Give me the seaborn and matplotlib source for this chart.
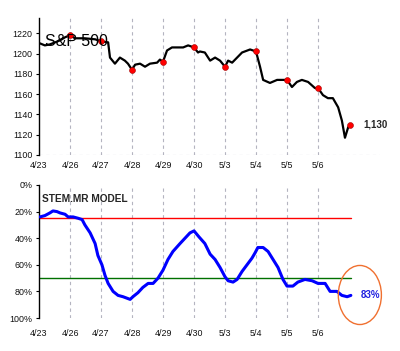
import matplotlib
matplotlib.use("Agg")
import matplotlib.pyplot as plt
import seaborn as sns
import pandas as pd
from matplotlib.patches import Ellipse

# ---- data ----
days = ["4/23", "4/26", "4/27", "4/28", "4/29", "4/30", "5/3", "5/4", "5/5", "5/6"]

spx_t = [0.03, 0.19, 0.35, 0.52, 0.68, 0.84, 1.0, 1.16, 1.48, 1.81, 2.0, 2.23, 2.29, 2.45,
         2.61, 2.77, 2.87, 3.0, 3.10, 3.26, 3.42, 3.58, 3.81, 3.90, 4.0, 4.13, 4.29, 4.65,
         4.81, 5.0, 5.13, 5.19, 5.35, 5.52, 5.68, 5.84, 6.0, 6.10, 6.23, 6.39, 6.55, 6.81,
         7.0, 7.13, 7.23, 7.45, 7.68, 7.87, 8.0, 8.16, 8.32, 8.48, 8.68, 8.90, 9.0, 9.16,
         9.32, 9.48, 9.65, 9.77, 9.87, 9.97, 10.03]
spx_v = [1210, 1208, 1209, 1211, 1213, 1216, 1218, 1215, 1215, 1214, 1212, 1211, 1196, 1190,
         1196, 1193, 1190, 1184, 1189, 1190, 1187, 1190, 1191, 1194, 1192, 1203, 1206, 1206,
         1208, 1206, 1201, 1202, 1201, 1193, 1196, 1193, 1187, 1193, 1191, 1196, 1201, 1204,
         1202, 1187, 1174, 1171, 1174, 1174, 1174, 1167, 1172, 1174, 1172, 1166, 1166, 1159,
         1156, 1156, 1147, 1134, 1117, 1127, 1130]

close_t = [1, 2, 3, 4, 5, 6, 7, 8, 9, 10.03]
close_v = [1218, 1212, 1184, 1192, 1206, 1187, 1202, 1174, 1166, 1130]

mdl_t = [0.03, 0.19, 0.35, 0.45, 0.58, 0.68, 0.84, 0.94, 1.10, 1.26, 1.39, 1.48, 1.65, 1.81,
         1.90, 2.03, 2.13, 2.23, 2.39, 2.55, 2.71, 2.94, 3.03, 3.19, 3.35, 3.52, 3.68, 3.84,
         4.0, 4.16, 4.32, 4.55, 4.71, 4.87, 5.0, 5.16, 5.35, 5.52, 5.68, 5.84, 6.0, 6.10,
         6.26, 6.39, 6.55, 6.71, 6.87, 6.97, 7.06, 7.23, 7.39, 7.55, 7.71, 7.87, 8.0, 8.19,
         8.35, 8.58, 8.81, 9.0, 9.23, 9.39, 9.61, 9.77, 9.94, 10.06]
mdl_v = [24, 23, 21, 19.5, 20, 21, 22, 24, 24, 25, 26, 30, 36, 44,
         53, 60, 68, 74, 80, 83, 84, 86, 84, 81, 77, 74, 74, 70,
         64, 56, 50, 44, 40, 36, 34.5, 39, 44, 52, 56, 62, 69, 72,
         73, 71, 65, 60, 55, 51, 47, 47, 50, 56, 62, 71, 76, 76,
         73, 71, 72, 74, 74, 80, 80, 83, 84, 83]

upper_level = 25
lower_level = 70
last_close_label = "1,130"
last_model_label = "83%"

# ---- style ----
sns.set_style("white")
plt.rcParams["font.family"] = ["Liberation Sans", "DejaVu Sans"]

fig = plt.figure(figsize=(4.0, 3.51), dpi=100)
W, H = 400.0, 351.0
x0, x1 = 39, 380

ax1 = fig.add_axes([x0 / W, 1 - 155 / H, (x1 - x0) / W, (155 - 18) / H])
ax2 = fig.add_axes([x0 / W, 1 - 318 / H, (x1 - x0) / W, (318 - 185) / H])

grid_kw = dict(color="#b4b4c0", lw=0.8, ls=(0, (3, 3)), zorder=0)

# ---- top panel ----
df1 = pd.DataFrame({"t": spx_t, "v": spx_v})
df1c = pd.DataFrame({"t": close_t, "v": close_v})
for i in range(1, len(days)):
    ax1.axvline(i, **grid_kw)
ax1.axhline(1100, **grid_kw)
sns.lineplot(data=df1, x="t", y="v", ax=ax1, color="black", lw=1.6, zorder=3)
sns.scatterplot(data=df1c, x="t", y="v", ax=ax1, color="#ff0000", s=18,
                edgecolor="#a00000", linewidth=0.4, zorder=4)
ax1.set_xlim(0, 11)
ax1.set_ylim(1100, 1235)
ax1.set_yticks([1100, 1120, 1140, 1160, 1180, 1200, 1220])
ax1.set_xticks(range(len(days)))
ax1.set_xticklabels(days)
ax1.text(0.19, 1212, "S&P 500", fontsize=11.5, color="black", va="center", ha="left", zorder=5)
ax1.text(10.84, 1130, last_close_label, fontsize=7, fontweight="bold", va="center", ha="center")

# ---- bottom panel ----
df2 = pd.DataFrame({"t": mdl_t, "v": mdl_v})
for i in range(1, len(days)):
    ax2.axvline(i, **grid_kw)
ax2.plot([0, 10.06], [upper_level, upper_level], color="#ff0000", lw=1.0, zorder=2)
ax2.plot([0, 10.06], [lower_level, lower_level], color="#007000", lw=1.0, zorder=2)
sns.lineplot(data=df2, x="t", y="v", ax=ax2, color="#0000ff", lw=2.2, zorder=3)
ax2.set_xlim(0, 11)
ax2.set_ylim(100, 0)
ax2.set_yticks([0, 20, 40, 60, 80, 100])
ax2.set_yticklabels(["0%", "20%", "40%", "60%", "80%", "100%"])
ax2.set_xticks(range(len(days)))
ax2.set_xticklabels(days)
ax2.text(0.1, 10.5, "STEM.MR MODEL", fontsize=7.3, fontweight="bold", va="center", ha="left")
ax2.add_patch(Ellipse((10.35, 82.7), 1.39, 44.4, fill=False, edgecolor="#f07030",
                      lw=1.0, clip_on=False, zorder=5))
ax2.text(10.68, 82.7, last_model_label, fontsize=7, fontweight="bold", color="#2020e0",
         va="center", ha="center")

for ax, pad in ((ax1, 4.0), (ax2, 8.0)):
    ax.set_xlabel("")
    ax.set_ylabel("")
    for s in ("top", "right", "bottom"):
        ax.spines[s].set_visible(False)
    ax.spines["left"].set_color("black")
    ax.spines["left"].set_linewidth(1.0)
    ax.tick_params(axis="y", which="both", left=True, length=2.5, width=0.8,
                   color="black", labelsize=6.4, pad=2.0, labelcolor="#111111")
    ax.tick_params(axis="x", which="both", bottom=False, length=0, labelsize=6.4, pad=pad,
                   labelcolor="#111111")
    ax.patch.set_alpha(0)

fig.savefig("out.png", dpi=100)
